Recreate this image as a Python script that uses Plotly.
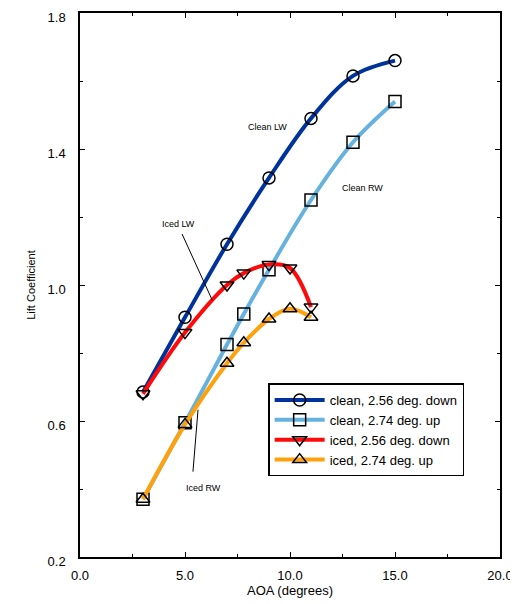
import plotly.graph_objects as go

# Data
aoa_clean_lw = [3, 5, 7, 9, 11, 13, 15]
cl_clean_lw = [0.685, 0.905, 1.12, 1.315, 1.49, 1.615, 1.66]

aoa_clean_rw = [3, 5, 7, 7.8, 9, 11, 13, 15]
cl_clean_rw = [0.37, 0.595, 0.825, 0.915, 1.045, 1.25, 1.42, 1.54]

aoa_iced = [3, 5, 7, 7.8, 9, 10, 11]
cl_iced_lw = [0.68, 0.86, 1.0, 1.035, 1.06, 1.05, 0.935]
cl_iced_rw = [0.37, 0.59, 0.77, 0.83, 0.90, 0.93, 0.905]

names = ["clean, 2.56 deg. down", "clean, 2.74 deg. up",
         "iced, 2.56 deg. down", "iced, 2.74 deg. up"]
colors = ["#003399", "#66b2de", "#ff0a0a", "#ffa10a"]
symbols = ["circle-open", "square-open", "triangle-down-open", "triangle-up-open"]

series = [(aoa_clean_lw, cl_clean_lw), (aoa_clean_rw, cl_clean_rw),
          (aoa_iced, cl_iced_lw), (aoa_iced, cl_iced_rw)]

FONT = "Liberation Sans, Arial, sans-serif"

fig = go.Figure()
for (xs, ys), name, col, sym in zip(series, names, colors, symbols):
    fig.add_trace(go.Scatter(
        x=xs, y=ys, name=name, mode="lines+markers",
        line=dict(color=col, width=4, shape="spline", smoothing=1.0),
        marker=dict(symbol=sym, size=12, color="black",
                    line=dict(color="black", width=1.5)),
    ))

# Curve labels
labels = [
    (8.95, 1.466, "Clean LW"),
    (13.45, 1.284, "Clean RW"),
    (4.7, 1.178, "Iced LW"),
    (5.9, 0.404, "Iced RW"),
]
for x, y, t in labels:
    fig.add_annotation(x=x, y=y, text=t, showarrow=False,
                       font=dict(family=FONT, size=9, color="black"))

# Leader lines
fig.add_shape(type="line", x0=4.86, y0=1.15, x1=6.3, y1=0.955,
              line=dict(color="black", width=1))
fig.add_shape(type="line", x0=5.38, y0=0.451, x1=5.62, y1=0.633,
              line=dict(color="black", width=1))

# The page body has an 8px margin, so the plot area is placed 8px up/left.
fig.update_layout(
    width=518, height=604,
    margin=dict(l=72, r=26, t=5, b=55),
    paper_bgcolor="white", plot_bgcolor="white",
    font=dict(family=FONT, size=13, color="black"),
    showlegend=True,
    legend=dict(x=0.448, y=0.319, xanchor="left", yanchor="top",
                bgcolor="white", bordercolor="black", borderwidth=1.5,
                font=dict(family=FONT, size=13, color="black"),
                itemwidth=50, tracegroupgap=0),
    xaxis=dict(range=[0, 20], tickvals=[0, 5, 10, 15, 20],
               ticktext=["0.0", "5.0", "10.0", "15.0", "20.0"],
               ticks="inside", ticklen=5, tickcolor="black",
               ticklabelstandoff=6, ticklabeloverflow="allow",
               minor=dict(tickvals=[2.5, 7.5, 12.5, 17.5], ticks="inside",
                          ticklen=3, tickcolor="black"),
               showline=True, linecolor="black", linewidth=1.5, mirror="ticks",
               showgrid=False, zeroline=False, automargin=False,
               title=dict(text="AOA (degrees)", font=dict(size=13), standoff=4)),
    yaxis=dict(range=[0.2, 1.8], tickvals=[0.2, 0.6, 1.0, 1.4, 1.8],
               ticktext=["0.2", "0.6", "1.0", "1.4", "1.8"],
               ticks="inside", ticklen=5, tickcolor="black",
               ticklabelstandoff=10, ticklabeloverflow="allow",
               ticklabelshift=4,
               minor=dict(tickvals=[0.4, 0.8, 1.2, 1.6], ticks="inside",
                          ticklen=3, tickcolor="black"),
               showline=True, linecolor="black", linewidth=1.5, mirror="ticks",
               showgrid=False, zeroline=False, automargin=False,
               title=dict(text="Lift Coefficient", font=dict(size=11), standoff=10)),
)

fig.write_html("out.html")
